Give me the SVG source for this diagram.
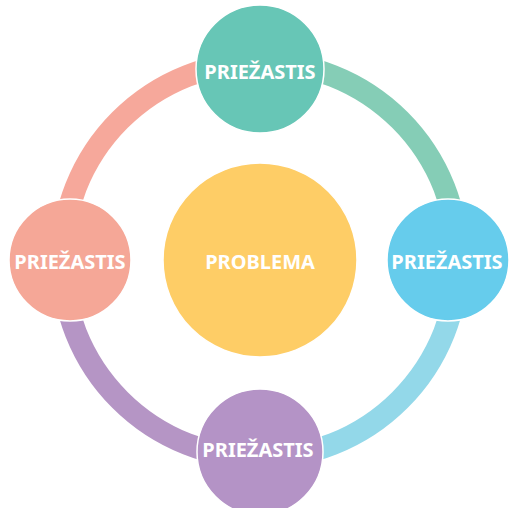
<svg xmlns="http://www.w3.org/2000/svg" width="509" height="508" viewBox="0 0 509 508">
<style>
.seg{fill:none;stroke-width:22;stroke-linecap:butt}
.node circle{stroke:#fff;stroke-width:1.5}
text{font-family:"Noto Sans","Open Sans",sans-serif;font-weight:bold;font-size:20px;fill:#fff;text-anchor:middle}
</style>
<rect width="509" height="508" fill="#fff"/>
<g id="connectors">
<path class="seg" stroke="#85CDB6" d="M260,62 A198,198 0 0 1 458,260"/>
<path class="seg" stroke="#93D8E9" d="M458,260 A198,198 0 0 1 260,458"/>
<path class="seg" stroke="#B595C5" d="M260,458 A198,198 0 0 1 62,260"/>
<path class="seg" stroke="#F6A89B" d="M62,260 A198,198 0 0 1 260,62"/>
</g>
<g id="center" class="node"><circle cx="260" cy="260" r="97" fill="#FECD66" stroke="none"/><text x="260" y="269">PROBLEMA</text></g>
<g id="top" class="node"><circle cx="260" cy="69" r="64" fill="#67C6B6"/><text x="260" y="79">PRIEŽASTIS</text></g>
<g id="right" class="node"><circle cx="448" cy="260" r="61" fill="#66CCEC"/><text x="447" y="269">PRIEŽASTIS</text></g>
<g id="bottom" class="node"><circle cx="260" cy="452" r="63" fill="#B493C6"/><text x="258" y="457">PRIEŽASTIS</text></g>
<g id="left" class="node"><circle cx="70" cy="260" r="61" fill="#F5A797"/><text x="70" y="269">PRIEŽASTIS</text></g>
</svg>
